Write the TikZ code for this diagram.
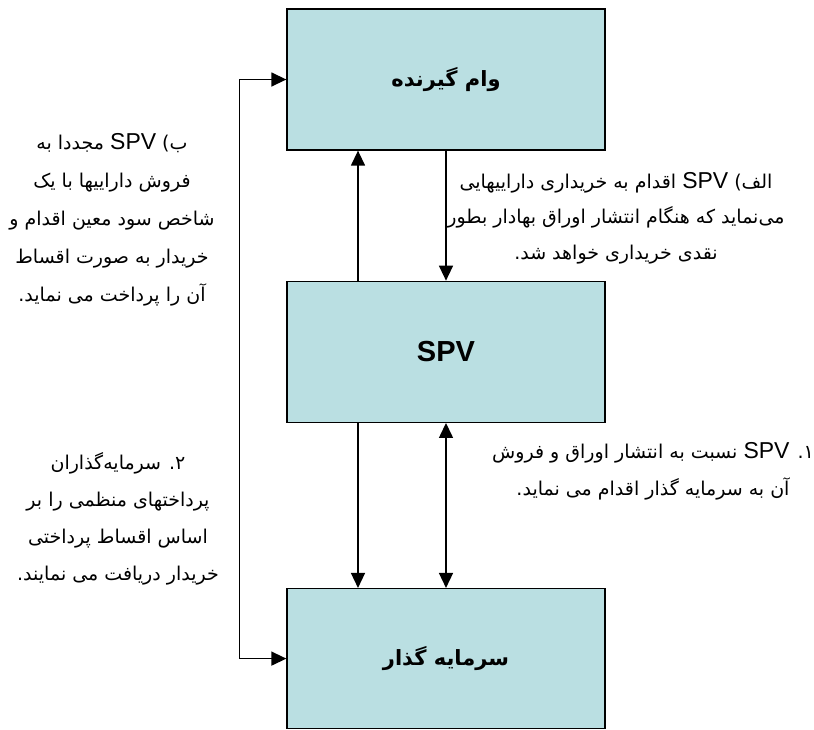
\documentclass[tikz,border=0pt]{standalone}
\usepackage{fontspec}
\usepackage{tikz}
\usetikzlibrary{arrows.meta, positioning, calc}
\TeXXeTstate=1
\newfontfamily\persianfont[Script=Arabic]{DejaVu Sans}
\newfontfamily\latinfont{Liberation Sans}
\newcommand{\spvword}{\beginL{\latinfont\fontsize{23}{23}\selectfont SPV}\endL}
\definecolor{boxfill}{HTML}{BADFE2}
\tikzset{
  party/.style={rectangle,draw=black,line width=1.3pt,fill=boxfill,minimum width=318pt,minimum height=141pt,
    font=\persianfont\bfseries\fontsize{21}{21}\selectfont},
  note/.style={align=center,inner sep=0pt,font=\persianfont\fontsize{19}{38}\selectfont},
  flow/.style={line width=1.4pt,-{Triangle[length=15pt,width=14pt]}},
  flowboth/.style={line width=1.4pt,{Triangle[length=15pt,width=14pt]}-{Triangle[length=15pt,width=14pt]}},
}

\begin{document}
\begin{tikzpicture}[x=1pt,y=-1pt]
	    \useasboundingbox (0,0) rectangle (814,729);
	    \node[party] (borrower) at (446,79.5) {\beginR وام گیرنده\endR};
	    \node[party,below=130pt of borrower] (spv) {\latinfont\bfseries\fontsize{29}{29}\selectfont SPV};
	    \node[party,below=165pt of spv,minimum height=140pt] (investor) {\beginR سرمایه گذار\endR};
	    % notes beside the arrows
	    \node[note] (resell) at (112,220) {\beginR ب) \spvword{} مجددا به\endR\\
	    	\beginR فروش داراییها با یک\endR\\
	    	\beginR شاخص سود معین اقدام و\endR\\
	    	\beginR خریدار به صورت اقساط\endR\\
	    	\beginR آن را پرداخت می نماید.\endR};
	    \node[note,font=\persianfont\fontsize{19}{35.5}\selectfont] (purchase) at (616,218) {\beginR الف) \spvword{} اقدام به خریداری داراییهایی\endR\\
	    	\beginR می‌نماید که هنگام انتشار اوراق بهادار بطور\endR\\
	    	\beginR نقدی خریداری خواهد شد.\endR};
	    \node[note,font=\persianfont\fontsize{19}{37}\selectfont] (issue) at (653,471) {\beginR ۱. \spvword{} نسبت به انتشار اوراق و فروش\endR\\
	    	\beginR آن به سرمایه گذار اقدام می نماید.\endR};
	    \node[note,font=\persianfont\fontsize{19}{37}\selectfont] (payment) at (118,519) {\beginR ۲. سرمایه‌گذاران\endR\\
	    	\beginR پرداختهای منظمی را بر\endR\\
	    	\beginR اساس اقساط  پرداختی\endR\\
	    	\beginR خریدار دریافت می نمایند.\endR};
	    % arrows between the parties
	    \draw[flow] ([xshift=-88pt]spv.north) -- ([xshift=-88pt]borrower.south);
	    \draw[flow] (borrower.south) -- (spv.north);
	    \draw[flow] ([xshift=-88pt]spv.south) -- ([xshift=-88pt]investor.north);
	    \draw[flowboth] (spv.south) -- (investor.north);
	    \draw[flowboth] (borrower.west) -- ++(-47,0) |- (investor.west);
	\end{tikzpicture}
\end{document}
